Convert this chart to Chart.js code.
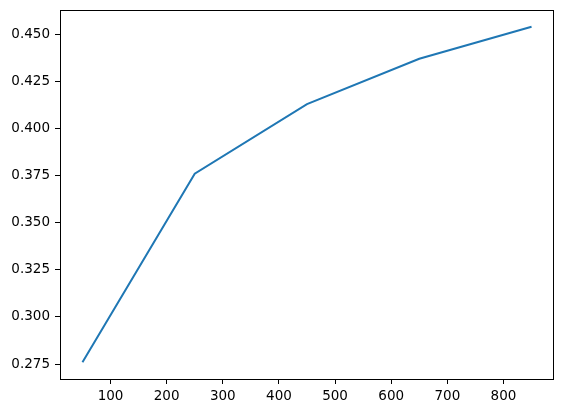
<!DOCTYPE html>
<html>
<head>
<meta charset="utf-8">
<script src="https://cdn.jsdelivr.net/npm/chart.js@4/dist/chart.umd.min.js"></script>
<style>
  html, body { margin: 0; padding: 0; background: #fff; }
  #wrap { width: 565px; height: 413px; position: relative; }
</style>
</head>
<body>
<div id="wrap"><canvas id="chart"></canvas></div>
<script>
// Data
const xValues = [50, 250, 450, 650, 850];
const yValues = [0.276, 0.376, 0.413, 0.437, 0.454];
const xTicks = [100, 200, 300, 400, 500, 600, 700, 800];
const yTicks = [0.275, 0.300, 0.325, 0.350, 0.375, 0.400, 0.425, 0.450];

const points = xValues.map((x, i) => ({ x: x, y: yValues[i] }));

// Draws the full frame around the plot area (matplotlib style)
const frame = {
    id: 'frame',
    afterDraw(chart) {
        const a = chart.chartArea;
        const ctx = chart.ctx;
        ctx.save();
        ctx.strokeStyle = '#000';
        ctx.lineWidth = 1;
        ctx.strokeRect(Math.round(a.left) + 0.5, Math.round(a.top) + 0.5,
            Math.round(a.right - a.left) - 1, Math.round(a.bottom - a.top));
        ctx.restore();
    }
};

const font = { family: 'DejaVu Sans', size: 13.5 };
// small lineHeight keeps the y labels from pushing the plot area down
const yFont = { family: 'DejaVu Sans', size: 13.5, lineHeight: 0.5 };

new Chart(document.getElementById('chart'), {
    type: 'line',
    data: {
        datasets: [{
            data: points,
            borderColor: '#1f77b4',
            borderWidth: 2,
            pointRadius: 0,
            tension: 0,
            fill: false
        }]
    },
    options: {
        responsive: true,
        maintainAspectRatio: false,
        animation: false,
        layout: { padding: { left: 0, right: 11, top: 10, bottom: 0 } },
        plugins: { legend: { display: false }, tooltip: { enabled: false } },
        scales: {
            x: {
                type: 'linear',
                min: 10,
                max: 890,
                afterBuildTicks: axis => { axis.ticks = xTicks.map(v => ({ value: v })); },
                afterFit: axis => { axis.height = 34; },
                grid: { display: true, drawOnChartArea: false, tickLength: 5, tickColor: '#000', tickWidth: 1 },
                border: { display: false },
                ticks: { color: '#000', font: font, padding: 4, maxRotation: 0, autoSkip: false }
            },
            y: {
                type: 'linear',
                min: 0.2671,
                max: 0.4629,
                afterBuildTicks: axis => { axis.ticks = yTicks.map(v => ({ value: v })); },
                afterFit: axis => { axis.width = 60; },
                grid: { display: true, drawOnChartArea: false, tickLength: 5, tickColor: '#000', tickWidth: 1 },
                border: { display: false },
                ticks: {
                    color: '#000', font: yFont, padding: 5, autoSkip: false,
                    callback: v => v.toFixed(3)
                }
            }
        }
    },
    plugins: [frame]
});
</script>
</body>
</html>
